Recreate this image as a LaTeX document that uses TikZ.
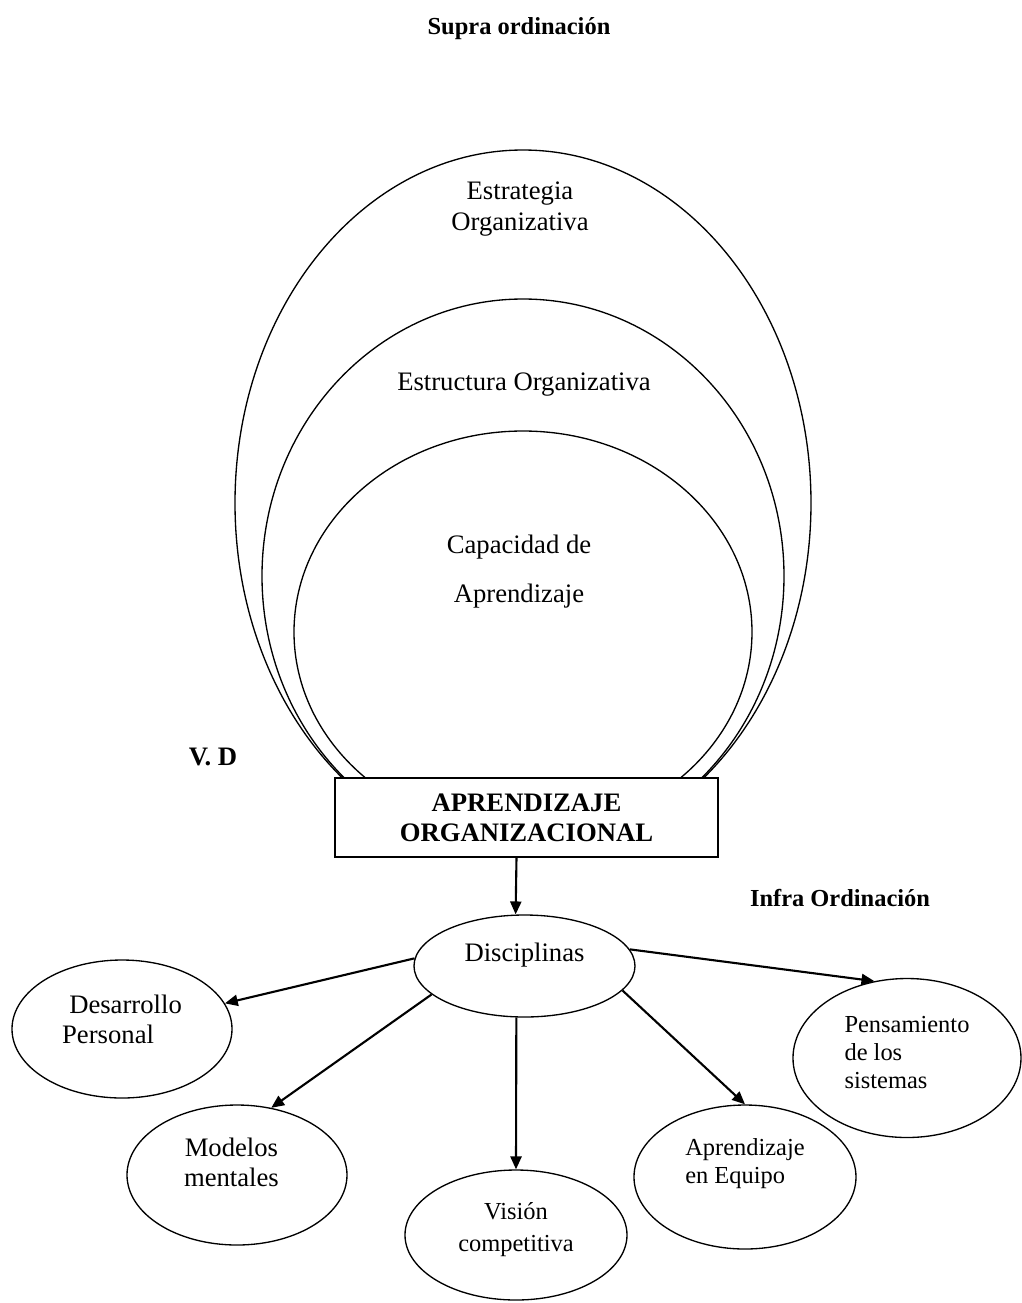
\documentclass[tikz,border=0pt]{standalone}
\usepackage{fontspec}
\setmainfont{Liberation Serif}
\usetikzlibrary{arrows.meta,shapes.geometric}
% lift the content of a node without changing its box
\newcommand\liftby[2]{\raisebox{#1}[\height][\depth]{#2}}

\begin{document}
\begin{tikzpicture}[x=0.45pt, y=-0.45pt,
  every node/.style={font=\fontsize{12}{13.5}\selectfont, inner sep=0pt},
  heading/.style={font=\fontsize{11}{13}\selectfont\bfseries},
  ring/.style={line width=0.6pt},
  oval/.style={draw, ellipse, line width=0.6pt, inner sep=0pt},
  small/.style={font=\fontsize{11}{12.6}\selectfont},
  link/.style={line width=0.95pt, -{Triangle[length=5.8pt, width=5pt]}},
  titlebox/.style={draw, fill=white, line width=0.7pt, minimum width=172.35pt,
    minimum height=35.55pt, align=center, font=\fontsize{12}{13.5}\selectfont\bfseries},
]
\useasboundingbox (0,0) rectangle (1022,1303);

% heading above the nested levels
\node[heading] (supra) at (519,29) {Supra ordinación};

% nested levels, cut off at the top of the central box
\begin{scope}
  \clip (0,0) rectangle (1022,778);
  \draw[ring] (523,503) ellipse [x radius=288, y radius=353];
  \draw[ring] (523,576) ellipse [x radius=261, y radius=277];
  \draw[ring] (523,632) ellipse [x radius=229, y radius=201];
\end{scope}

\node[align=center, font=\fontsize{12}{14}\selectfont] (estrategia) at (520,209) {Estrategia\\Organizativa};
\node (estructura) at (524,385) {Estructura Organizativa};
\node[align=center, font=\fontsize{12}{22}\selectfont] (capacidad) at (519,572) {Capacidad de\\Aprendizaje};

\node[font=\fontsize{12}{14}\selectfont\bfseries] (vd) at (213,757) {V. D};

% central concept
\node[titlebox] (box) at (526.5,817.5) {APRENDIZAJE\\ORGANIZACIONAL};

\node[heading] (infra) at (840,898) {Infra Ordinación};

% disciplines
\node[oval, minimum width=99.45pt, minimum height=45.9pt] (disc) at (524.5,966)
  {\liftby{4.95pt}{Disciplinas}};
\node[oval, minimum width=99pt, minimum height=62.1pt] (desa) at (122,1029)
  {\liftby{3.15pt}{\begin{tabular}{@{}l@{}}\hspace*{3.2pt}Desarrollo\\Personal\end{tabular}}};
\node[oval, minimum width=99pt, minimum height=63pt] (mode) at (237,1175)
  {\liftby{4.5pt}{\hspace*{-5pt}\begin{tabular}{@{}c@{}}Modelos\\mentales\end{tabular}}};
\node[oval, small, minimum width=99.9pt, minimum height=58.5pt] (vis) at (516,1235)
  {\liftby{2.7pt}{\fontsize{11}{14.4}\selectfont\begin{tabular}{@{}c@{}}Visión\\competitiva\end{tabular}}};
\node[oval, small, minimum width=99.9pt, minimum height=64.8pt] (equi) at (745,1177)
  {\liftby{5.85pt}{\begin{tabular}{@{}l@{}}Aprendizaje\\en Equipo\end{tabular}}};
\node[oval, small, minimum width=102.6pt, minimum height=71.55pt] (pens) at (907,1058)
  {\liftby{1.35pt}{\begin{tabular}{@{}l@{}}Pensamiento\\de los\\sistemas\end{tabular}}};

% connectors
\draw[link] ([xshift=-4.5pt]box.south) -- ([xshift=-4pt]disc.north);
\draw[link] (disc.176.9) -- (desa.14.4);
\draw[link] (disc.197.1) -- (mode.63.4);
\draw[link] (disc.261.6) -- (vis.north);
\draw[link] (disc.346.2) -- (equi.north);
\draw[link] (disc.9.9) -- (pens.113.6);
\end{tikzpicture}
\end{document}
